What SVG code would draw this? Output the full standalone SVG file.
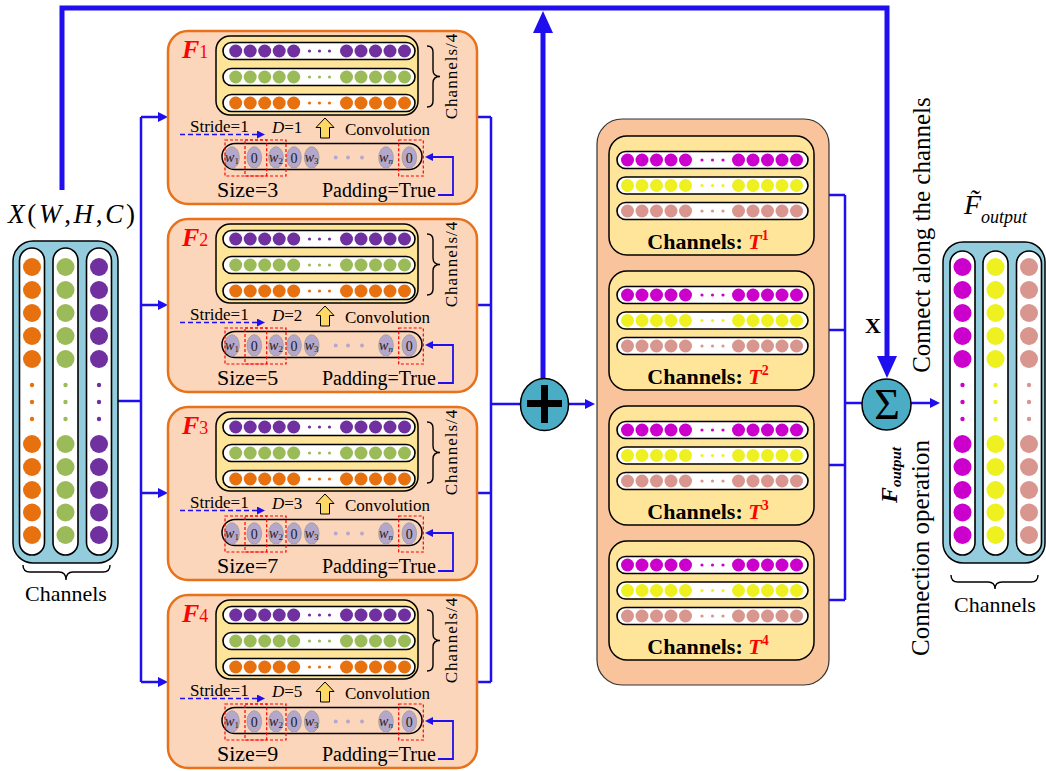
<svg xmlns="http://www.w3.org/2000/svg" xmlns:xlink="http://www.w3.org/1999/xlink" width="1046" height="771" viewBox="0 0 1046 771" font-family="'Liberation Serif', 'Times New Roman', serif">
<style>
text{font-family:"Liberation Serif","Times New Roman",serif;fill:#000}
.fbox{fill:#FBD6BA;stroke:#E8711A;stroke-width:2.5}
.ybox{fill:#FFE599;stroke:#000;stroke-width:1.5}
.pill{fill:#fff;stroke:#000;stroke-width:1.6}
.kpill{fill:none;stroke:#000;stroke-width:1.5}
.ker{fill:#B5A7CB;stroke:#9a9a9a;stroke-width:0.8}
.red{fill:none;stroke:#FF0000;stroke-width:1.2;stroke-dasharray:3 2}
.conn{fill:none;stroke:#1F0FEF;stroke-width:2.5}
.thick{fill:none;stroke:#1F0FEF;stroke-width:5}
.thin{fill:none;stroke:#1F0FEF;stroke-width:1.8}
.dash{fill:none;stroke:#1F0FEF;stroke-width:1.5;stroke-dasharray:5 3}
.brace{fill:none;stroke:#000;stroke-width:1.4}
.flab{fill:#FF0000;font-weight:bold;font-style:italic;font-size:26px}
.t17{font-size:17px}
.kt{font-size:14px;fill:#222}
.tlab{font-size:22px;font-weight:bold}
.teal{fill:#4BACC6;stroke:#000;stroke-width:1.5}
.xbox{fill:#93CDDD;stroke:#000;stroke-width:1.5}
.col{fill:#fff;stroke:#000;stroke-width:1.6}
</style>
<defs>
<marker id="ah" viewBox="0 0 10 10" refX="1" refY="5" markerWidth="10" markerHeight="10" markerUnits="userSpaceOnUse" orient="auto"><path d="M0,0 L10,5 L0,10 z" fill="#1F0FEF"/></marker>
<marker id="ahS" viewBox="0 0 8 8" refX="1" refY="4" markerWidth="8" markerHeight="8" markerUnits="userSpaceOnUse" orient="auto"><path d="M0,0 L8,4 L0,8 z" fill="#1F0FEF"/></marker>
<marker id="ahT" viewBox="0 0 22 20" refX="1" refY="10" markerWidth="22" markerHeight="20" markerUnits="userSpaceOnUse" orient="auto"><path d="M0,0 L22,10 L0,20 z" fill="#1F0FEF"/></marker>
<g id="frow">
<circle cx="235.7" cy="0" r="6.5"/><circle cx="250.2" cy="0" r="6.5"/><circle cx="264.7" cy="0" r="6.5"/><circle cx="279.2" cy="0" r="6.5"/><circle cx="293.7" cy="0" r="6.5"/>
<circle cx="309.5" cy="0" r="1.6"/><circle cx="319.5" cy="0" r="1.6"/><circle cx="329.5" cy="0" r="1.6"/>
<circle cx="346.5" cy="0" r="6.5"/><circle cx="361" cy="0" r="6.5"/><circle cx="375.5" cy="0" r="6.5"/><circle cx="390" cy="0" r="6.5"/><circle cx="404.5" cy="0" r="6.5"/>
</g>
<g id="trow">
<circle cx="627.5" cy="0" r="6.5"/><circle cx="642" cy="0" r="6.5"/><circle cx="656.5" cy="0" r="6.5"/><circle cx="671" cy="0" r="6.5"/><circle cx="685.5" cy="0" r="6.5"/>
<circle cx="702" cy="0" r="1.6"/><circle cx="712.5" cy="0" r="1.6"/><circle cx="723" cy="0" r="1.6"/>
<circle cx="738.5" cy="0" r="6.5"/><circle cx="753" cy="0" r="6.5"/><circle cx="767.5" cy="0" r="6.5"/><circle cx="782" cy="0" r="6.5"/><circle cx="796.5" cy="0" r="6.5"/>
</g>
<g id="colc">
<circle cx="0" cy="267" r="9"/><circle cx="0" cy="290" r="9"/><circle cx="0" cy="313" r="9"/><circle cx="0" cy="336" r="9"/><circle cx="0" cy="359" r="9"/>
<circle cx="0" cy="385" r="2.2"/><circle cx="0" cy="402" r="2.2"/><circle cx="0" cy="419" r="2.2"/>
<circle cx="0" cy="444" r="9"/><circle cx="0" cy="467" r="9"/><circle cx="0" cy="490" r="9"/><circle cx="0" cy="512.5" r="9"/><circle cx="0" cy="535" r="9"/>
</g>
<g id="fdetail">
<rect class="ybox" x="216" y="36" width="202" height="79" rx="14"/>
<rect class="pill" x="223" y="42.5" width="192" height="17" rx="8.5"/>
<rect class="pill" x="223" y="68.5" width="192" height="17" rx="8.5"/>
<rect class="pill" x="223" y="94.5" width="192" height="17" rx="8.5"/>
<use href="#frow" y="51" fill="#7030A0"/>
<use href="#frow" y="77" fill="#9BBB59"/>
<use href="#frow" y="103" fill="#E8710F"/>
<path class="brace" d="M427,46 Q433,46 433,52 V70 Q433,76.5 440,76.5 Q433,76.5 433,83 V101 Q433,107 427,107"/>
<path class="dash" d="M180,134.5 H258" marker-end="url(#ahS)"/>
<polygon points="325,118 334,127.5 329.5,127.5 329.5,138 320.5,138 320.5,127.5 316,127.5" fill="#FFD966" stroke="#000" stroke-width="1"/>
<rect class="kpill" x="222" y="143.5" width="200" height="26" rx="13"/>
<ellipse class="ker" cx="232" cy="157.5" rx="7.3" ry="10.8"/>
<ellipse class="ker" cx="254.3" cy="157.5" rx="7.3" ry="10.8"/>
<ellipse class="ker" cx="276" cy="157.5" rx="7.3" ry="10.8"/>
<ellipse class="ker" cx="294" cy="157.5" rx="7.3" ry="10.8"/>
<ellipse class="ker" cx="311.7" cy="157.5" rx="7.3" ry="10.8"/>
<circle cx="335.7" cy="157.5" r="1.9" fill="#B5A7CB"/><circle cx="348" cy="157.5" r="1.9" fill="#B5A7CB"/><circle cx="362" cy="157.5" r="1.9" fill="#B5A7CB"/>
<ellipse class="ker" cx="386" cy="157.5" rx="7.3" ry="10.8"/>
<ellipse class="ker" cx="409.3" cy="157.5" rx="7.3" ry="10.8"/>
<rect class="red" x="225" y="140" width="41.7" height="36"/>
<rect class="red" x="245" y="140" width="41" height="36"/>
<rect class="red" x="398.7" y="140" width="24.6" height="36"/>
<path class="thin" d="M438,195 H453 V157 H432" marker-end="url(#ahS)"/>
</g>
<g id="tdetail">
<rect class="ybox" x="609" y="136" width="205" height="119" rx="18"/>
<rect class="pill" x="617" y="151.5" width="191" height="17" rx="8.5"/>
<rect class="pill" x="617" y="177" width="191" height="17" rx="8.5"/>
<rect class="pill" x="617" y="202.5" width="191" height="17" rx="8.5"/>
<use href="#trow" y="160" fill="#CC00CC"/>
<use href="#trow" y="185.5" fill="#EEF020"/>
<use href="#trow" y="211" fill="#D9968F"/>
</g>
</defs>

<g id="connectors">
<path class="thick" d="M62,190 V8 H887 V357" marker-end="url(#ahT)"/>
<path class="thick" d="M543,378 V32" marker-end="url(#ahT)"/>
<path class="conn" d="M118,401 H141"/>
<path class="conn" d="M141,117 V682"/>
<path class="conn" d="M141,117 H159" marker-end="url(#ah)"/>
<path class="conn" d="M141,305 H159" marker-end="url(#ah)"/>
<path class="conn" d="M141,493 H159" marker-end="url(#ah)"/>
<path class="conn" d="M141,682 H159" marker-end="url(#ah)"/>
<path class="conn" d="M477,117 H491 M477,305 H491 M477,493 H491 M477,682 H491 M491,117 V682 M491,404 H520"/>
<path class="conn" d="M568,404 H586" marker-end="url(#ah)"/>
<path class="conn" d="M814,195 H845 M814,330 H845 M814,465 H845 M814,600 H845 M845,195 V600 M845,403 H862"/>
<path class="conn" d="M911,403 H931" marker-end="url(#ah)"/>
</g>

<g id="input">
<text x="8" y="223" font-size="27" textLength="127" lengthAdjust="spacing"><tspan font-style="italic">X</tspan>(<tspan font-style="italic">W</tspan>,<tspan font-style="italic">H</tspan>,<tspan font-style="italic">C</tspan>)</text>
<rect class="xbox" x="13" y="241" width="105" height="322" rx="20"/>
<rect class="col" x="19.5" y="248" width="25" height="307" rx="12.5"/>
<rect class="col" x="53" y="248" width="25" height="307" rx="12.5"/>
<rect class="col" x="86.5" y="248" width="25" height="307" rx="12.5"/>
<use href="#colc" x="32" fill="#E8710F"/>
<use href="#colc" x="65.5" fill="#9BBB59"/>
<use href="#colc" x="99" fill="#7030A0"/>
<path class="brace" d="M23,565 Q23,572 30,572 H59 Q66,572 66,580 Q66,572 73,572 H103 Q110,572 110,565"/>
<text x="66" y="601" font-size="22" text-anchor="middle">Channels</text>
</g>

<g id="F1">
<rect class="fbox" x="168" y="31" width="309" height="173" rx="20"/>
<use href="#fdetail"/>
<text class="flab" x="182" y="58">F<tspan font-size="18" font-style="normal" font-weight="normal">1</tspan></text>
<text class="t17" transform="translate(457,76) rotate(-90)" text-anchor="middle" letter-spacing="1">Channels/4</text>
<text class="t17" x="190" y="131.5">Stride=1</text>
<text class="t17" x="272" y="133"><tspan font-style="italic">D</tspan>=1</text>
<text class="t17" x="345" y="135">Convolution</text>
<text class="kt" x="232" y="162" text-anchor="middle"><tspan font-style="italic">w</tspan><tspan font-size="9" dy="2">1</tspan></text>
<text class="kt" x="254.3" y="162.5" text-anchor="middle" font-size="15">0</text>
<text class="kt" x="276" y="162" text-anchor="middle"><tspan font-style="italic">w</tspan><tspan font-size="9" dy="2">2</tspan></text>
<text class="kt" x="294" y="162.5" text-anchor="middle" font-size="15">0</text>
<text class="kt" x="311.7" y="162" text-anchor="middle"><tspan font-style="italic">w</tspan><tspan font-size="9" dy="2">3</tspan></text>
<text class="kt" x="386" y="162" text-anchor="middle"><tspan font-style="italic">w</tspan><tspan font-size="9" dy="2" font-style="italic">n</tspan></text>
<text class="kt" x="409.3" y="162.5" text-anchor="middle" font-size="15">0</text>
<text x="217" y="197" font-size="22">Size=3</text>
<text x="322" y="197" font-size="20">Padding=True</text>
</g>

<g id="F2" transform="translate(0,188)">
<rect class="fbox" x="168" y="31" width="309" height="173" rx="20"/>
<use href="#fdetail"/>
<text class="flab" x="182" y="58">F<tspan font-size="18" font-style="normal" font-weight="normal">2</tspan></text>
<text class="t17" transform="translate(457,76) rotate(-90)" text-anchor="middle" letter-spacing="1">Channels/4</text>
<text class="t17" x="190" y="131.5">Stride=1</text>
<text class="t17" x="272" y="133"><tspan font-style="italic">D</tspan>=2</text>
<text class="t17" x="345" y="135">Convolution</text>
<text class="kt" x="232" y="162" text-anchor="middle"><tspan font-style="italic">w</tspan><tspan font-size="9" dy="2">1</tspan></text>
<text class="kt" x="254.3" y="162.5" text-anchor="middle" font-size="15">0</text>
<text class="kt" x="276" y="162" text-anchor="middle"><tspan font-style="italic">w</tspan><tspan font-size="9" dy="2">2</tspan></text>
<text class="kt" x="294" y="162.5" text-anchor="middle" font-size="15">0</text>
<text class="kt" x="311.7" y="162" text-anchor="middle"><tspan font-style="italic">w</tspan><tspan font-size="9" dy="2">3</tspan></text>
<text class="kt" x="386" y="162" text-anchor="middle"><tspan font-style="italic">w</tspan><tspan font-size="9" dy="2" font-style="italic">n</tspan></text>
<text class="kt" x="409.3" y="162.5" text-anchor="middle" font-size="15">0</text>
<text x="217" y="197" font-size="22">Size=5</text>
<text x="322" y="197" font-size="20">Padding=True</text>
</g>

<g id="F3" transform="translate(0,376)">
<rect class="fbox" x="168" y="31" width="309" height="173" rx="20"/>
<use href="#fdetail"/>
<text class="flab" x="182" y="58">F<tspan font-size="18" font-style="normal" font-weight="normal">3</tspan></text>
<text class="t17" transform="translate(457,76) rotate(-90)" text-anchor="middle" letter-spacing="1">Channels/4</text>
<text class="t17" x="190" y="131.5">Stride=1</text>
<text class="t17" x="272" y="133"><tspan font-style="italic">D</tspan>=3</text>
<text class="t17" x="345" y="135">Convolution</text>
<text class="kt" x="232" y="162" text-anchor="middle"><tspan font-style="italic">w</tspan><tspan font-size="9" dy="2">1</tspan></text>
<text class="kt" x="254.3" y="162.5" text-anchor="middle" font-size="15">0</text>
<text class="kt" x="276" y="162" text-anchor="middle"><tspan font-style="italic">w</tspan><tspan font-size="9" dy="2">2</tspan></text>
<text class="kt" x="294" y="162.5" text-anchor="middle" font-size="15">0</text>
<text class="kt" x="311.7" y="162" text-anchor="middle"><tspan font-style="italic">w</tspan><tspan font-size="9" dy="2">3</tspan></text>
<text class="kt" x="386" y="162" text-anchor="middle"><tspan font-style="italic">w</tspan><tspan font-size="9" dy="2" font-style="italic">n</tspan></text>
<text class="kt" x="409.3" y="162.5" text-anchor="middle" font-size="15">0</text>
<text x="217" y="197" font-size="22">Size=7</text>
<text x="322" y="197" font-size="20">Padding=True</text>
</g>

<g id="F4" transform="translate(0,564)">
<rect class="fbox" x="168" y="31" width="309" height="173" rx="20"/>
<use href="#fdetail"/>
<text class="flab" x="182" y="58">F<tspan font-size="18" font-style="normal" font-weight="normal">4</tspan></text>
<text class="t17" transform="translate(457,76) rotate(-90)" text-anchor="middle" letter-spacing="1">Channels/4</text>
<text class="t17" x="190" y="131.5">Stride=1</text>
<text class="t17" x="272" y="133"><tspan font-style="italic">D</tspan>=5</text>
<text class="t17" x="345" y="135">Convolution</text>
<text class="kt" x="232" y="162" text-anchor="middle"><tspan font-style="italic">w</tspan><tspan font-size="9" dy="2">1</tspan></text>
<text class="kt" x="254.3" y="162.5" text-anchor="middle" font-size="15">0</text>
<text class="kt" x="276" y="162" text-anchor="middle"><tspan font-style="italic">w</tspan><tspan font-size="9" dy="2">2</tspan></text>
<text class="kt" x="294" y="162.5" text-anchor="middle" font-size="15">0</text>
<text class="kt" x="311.7" y="162" text-anchor="middle"><tspan font-style="italic">w</tspan><tspan font-size="9" dy="2">3</tspan></text>
<text class="kt" x="386" y="162" text-anchor="middle"><tspan font-style="italic">w</tspan><tspan font-size="9" dy="2" font-style="italic">n</tspan></text>
<text class="kt" x="409.3" y="162.5" text-anchor="middle" font-size="15">0</text>
<text x="217" y="197" font-size="22">Size=9</text>
<text x="322" y="197" font-size="20">Padding=True</text>
</g>

<g id="plus">
<ellipse class="teal" cx="544.5" cy="404.5" rx="24" ry="26"/>
<path d="M527,403.5 H562 M544.5,385 V423" stroke="#000" stroke-width="7" fill="none"/>
</g>

<g id="T-group">
<rect x="597" y="119" width="232" height="566" rx="25" fill="#F9C39C" stroke="#333" stroke-width="1.2"/>
<g id="T1">
<use href="#tdetail"/>
<text class="tlab" x="708" y="248.5" text-anchor="middle">Channels: <tspan fill="#FF0000" font-style="italic">T</tspan><tspan fill="#FF0000" font-size="14" dy="-9">1</tspan></text>
</g>
<g id="T2" transform="translate(0,135)">
<use href="#tdetail"/>
<text class="tlab" x="708" y="248.5" text-anchor="middle">Channels: <tspan fill="#FF0000" font-style="italic">T</tspan><tspan fill="#FF0000" font-size="14" dy="-9">2</tspan></text>
</g>
<g id="T3" transform="translate(0,270)">
<use href="#tdetail"/>
<text class="tlab" x="708" y="248.5" text-anchor="middle">Channels: <tspan fill="#FF0000" font-style="italic">T</tspan><tspan fill="#FF0000" font-size="14" dy="-9">3</tspan></text>
</g>
<g id="T4" transform="translate(0,405)">
<use href="#tdetail"/>
<text class="tlab" x="708" y="248.5" text-anchor="middle">Channels: <tspan fill="#FF0000" font-style="italic">T</tspan><tspan fill="#FF0000" font-size="14" dy="-9">4</tspan></text>
</g>
</g>

<g id="sigma">
<ellipse class="teal" cx="886.5" cy="404.5" rx="24.5" ry="25.5"/>
<text x="887" y="419" font-size="44" text-anchor="middle">Σ</text>
</g>

<g id="labels">
<text x="865" y="333" font-size="22" font-weight="bold">X</text>
<text transform="translate(897,503) rotate(-90)" font-weight="bold" font-style="italic"><tspan font-size="24">F</tspan><tspan font-size="15" dy="4">output</tspan></text>
<text transform="translate(930,235) rotate(-90)" font-size="25" text-anchor="middle">Connect along the channels</text>
<text transform="translate(929,548) rotate(-90)" font-size="25" text-anchor="middle">Connection operation</text>
</g>

<g id="output">
<text x="964" y="214" font-style="italic"><tspan font-size="28">F&#x303;</tspan><tspan font-size="18" dy="9">output</tspan></text>
<rect class="xbox" x="943" y="242" width="102" height="321" rx="20"/>
<rect class="col" x="950" y="251" width="25" height="304" rx="12.5"/>
<rect class="col" x="983" y="251" width="25" height="304" rx="12.5"/>
<rect class="col" x="1016.5" y="251" width="25" height="304" rx="12.5"/>
<use href="#colc" x="962.5" fill="#CC00CC"/>
<use href="#colc" x="995.5" fill="#EEF020"/>
<use href="#colc" x="1029" fill="#D9968F"/>
<path class="brace" d="M951,575 Q951,582 958,582 H988 Q995,582 995,589 Q995,582 1002,582 H1031 Q1038,582 1038,575"/>
<text x="995" y="612" font-size="22" text-anchor="middle">Channels</text>
</g>
</svg>
